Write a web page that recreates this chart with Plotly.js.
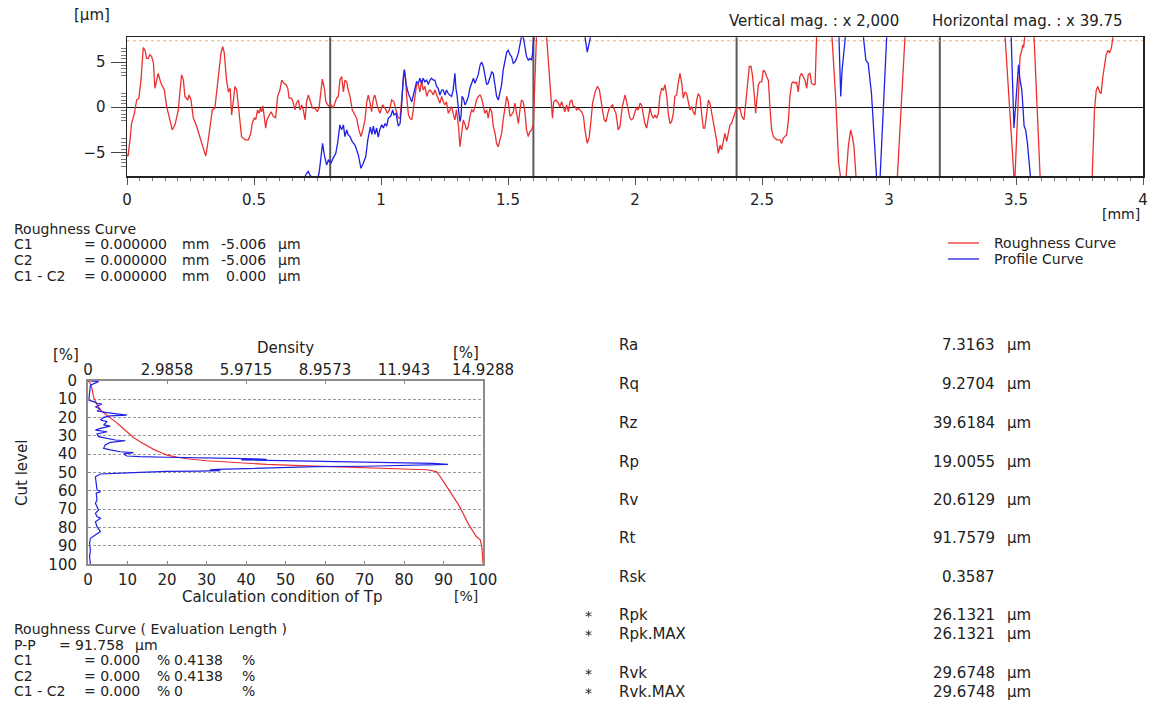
<!DOCTYPE html>
<html>
<head>
<meta charset="utf-8">
<script src="https://cdn.plot.ly/plotly-3.0.1.min.js"></script>
<style>
  html, body { margin: 0; padding: 0; background: #fff; }
  #chart { width: 1152px; height: 706px; }
</style>
</head>
<body>
<div id="chart"></div>
<script>
// ---------- Roughness / profile trace (x in mm, height in µm) ----------
const roughX = [0,0.004,0.012,0.018,0.029,0.038,0.047,0.055,0.064,0.071,0.077,0.084,0.09,0.097,0.104,0.11,0.117,0.123,0.13,0.136,0.147,0.156,0.169,0.178,0.189,0.202,0.209,0.215,0.222,0.228,0.239,0.244,0.252,0.261,0.274,0.287,0.3,0.31,0.318,0.327,0.336,0.346,0.353,0.36,0.37,0.377,0.383,0.392,0.399,0.406,0.412,0.419,0.425,0.432,0.438,0.445,0.451,0.465,0.478,0.487,0.493,0.501,0.507,0.514,0.52,0.525,0.53,0.535,0.541,0.546,0.551,0.559,0.567,0.576,0.585,0.593,0.602,0.609,0.618,0.626,0.633,0.638,0.648,0.655,0.661,0.667,0.675,0.681,0.688,0.694,0.701,0.707,0.714,0.72,0.73,0.74,0.749,0.756,0.762,0.769,0.777,0.783,0.793,0.803,0.812,0.819,0.825,0.832,0.838,0.845,0.852,0.858,0.865,0.871,0.878,0.887,0.895,0.904,0.913,0.921,0.93,0.937,0.944,0.95,0.957,0.963,0.97,0.976,0.986,0.996,1.006,1.016,1.025,1.033,1.042,1.051,1.059,1.068,1.075,1.081,1.088,1.092,1.097,1.101,1.108,1.114,1.121,1.127,1.134,1.14,1.147,1.153,1.16,1.166,1.173,1.18,1.186,1.193,1.199,1.206,1.212,1.219,1.225,1.232,1.239,1.245,1.252,1.258,1.265,1.271,1.278,1.284,1.291,1.297,1.305,1.311,1.318,1.324,1.331,1.337,1.344,1.35,1.357,1.364,1.37,1.376,1.383,1.39,1.396,1.403,1.409,1.416,1.422,1.429,1.436,1.442,1.449,1.455,1.462,1.468,1.475,1.481,1.488,1.495,1.501,1.508,1.514,1.521,1.527,1.534,1.541,1.547,1.553,1.56,1.567,1.573,1.58,1.586,1.593,1.6,1.606,1.612,1.625,1.64,1.652,1.665,1.671,1.675,1.68,1.689,1.698,1.705,1.711,1.718,1.724,1.731,1.738,1.744,1.751,1.757,1.764,1.77,1.777,1.783,1.79,1.797,1.803,1.812,1.82,1.827,1.833,1.843,1.852,1.86,1.866,1.873,1.879,1.886,1.893,1.899,1.906,1.912,1.919,1.925,1.934,1.941,1.95,1.961,1.967,1.974,1.98,1.987,1.993,2.0,2.006,2.013,2.02,2.026,2.033,2.039,2.046,2.052,2.059,2.066,2.072,2.079,2.085,2.092,2.098,2.105,2.112,2.118,2.125,2.131,2.138,2.144,2.151,2.157,2.164,2.17,2.177,2.184,2.19,2.197,2.203,2.21,2.216,2.223,2.229,2.236,2.243,2.249,2.256,2.262,2.269,2.275,2.282,2.289,2.295,2.302,2.308,2.315,2.321,2.328,2.335,2.341,2.348,2.354,2.361,2.367,2.374,2.38,2.387,2.394,2.4,2.407,2.413,2.42,2.429,2.436,2.444,2.45,2.457,2.463,2.47,2.475,2.479,2.486,2.492,2.499,2.505,2.512,2.518,2.525,2.532,2.538,2.545,2.551,2.558,2.564,2.571,2.577,2.584,2.59,2.597,2.604,2.61,2.617,2.623,2.63,2.636,2.643,2.649,2.656,2.662,2.669,2.676,2.682,2.689,2.695,2.702,2.709,2.715,2.73,2.76,2.775,2.789,2.802,2.808,2.82,2.831,2.84,2.849,2.856,2.862,2.87,2.9,3.0,3.033,3.063,3.1,3.42,3.457,3.492,3.494,3.496,3.51,3.516,3.523,3.527,3.53,3.534,3.55,3.571,3.595,3.64,3.76,3.8,3.809,3.816,3.822,3.829,3.835,3.842,3.849,3.855,3.862,3.868,3.875,3.882,3.93,4.0];
const roughY = [-5.3,-5.4,-3.6,-1.8,-0.7,0.8,1.0,3.0,6.6,6.3,5.4,5.4,5.8,5.6,4.9,2.1,3.0,3.75,3.0,2.5,1.9,0.07,-1.4,-2.5,-1.95,-0.3,1.9,3.6,3.0,1.2,0.8,1.35,0.8,-1.2,-2.1,-3.25,-4.5,-5.4,-4.0,-2.1,-0.3,-0.1,1.7,3.0,6.0,6.7,6.0,3.0,1.7,2.1,-0.85,0.8,2.3,1.9,0.07,-2.1,-3.25,-3.6,-3.6,-2.9,-1.8,-1.2,-1.35,-0.3,-0.67,-0.1,-0.5,0.15,-1.0,-2.3,-1.4,-1.0,-0.5,-1.0,-1.2,1.2,1.9,3.0,2.65,2.5,2.1,1.0,1.0,0.45,-0.3,0.45,0.8,-0.3,0.25,-0.3,-1.4,0.6,1.35,0.8,-0.1,-0.1,-0.5,-0.1,1.2,3.1,2.1,0.6,0.15,0.25,-0.1,0.45,1.0,1.2,3.0,3.4,1.7,3.0,2.8,1.9,1.2,-0.3,-0.67,-1.2,-2.5,-3.25,-2.3,-1.4,0.6,1.35,0.45,-0.5,1.0,1.35,0.07,-0.67,0.25,-0.1,-0.67,-0.3,0.8,0.6,-0.3,-1.2,-1.2,1.2,3.0,4.2,3.2,1.2,-0.85,-1.2,-1.4,-0.3,1.2,2.5,2.5,1.7,3.0,1.9,2.3,1.2,1.7,1.9,1.7,1.35,1.9,1.35,0.8,0.45,1.2,0.6,0.25,0.6,-0.67,-0.3,0.07,-0.67,-1.4,-0.3,-2.1,-4.35,-2.5,-1.4,-1.95,-2.5,-2.1,-1.0,-0.3,-0.5,0.07,0.8,1.2,1.35,1.0,0.25,-0.67,-0.3,-1.2,-0.1,-0.5,-2.1,-2.9,-4.0,-4.35,-3.6,-2.9,-1.4,0.07,1.2,0.6,-1.0,-0.85,-0.5,0.45,-0.67,-1.8,-0.3,0.8,0.6,-0.67,-2.5,-3.25,-2.7,-2.5,-1.8,3.75,7.8,14,12,7.8,2.5,0.07,-1.2,0.6,0.8,0.45,0.07,0.6,0.07,-0.5,0.25,-0.5,0.6,0.8,0.07,0.07,-0.3,-0.1,-0.3,-0.5,-1.0,-2.5,-4.0,-3.25,-1.4,0.45,1.7,2.3,1.9,0.6,-0.5,-1.4,-1.6,-0.67,-0.1,0.07,0.25,-0.3,-0.67,-2.5,-2.1,0.07,1.35,0.6,-0.3,-1.2,-1.4,-1.2,-0.5,-0.1,-0.3,0.45,0.25,-0.67,-1.8,-2.3,-1.2,-0.1,-0.85,-1.2,-0.85,-1.2,-0.67,1.2,2.1,1.9,2.5,1.2,-0.67,-1.8,-1.6,-0.67,1.2,1.35,2.65,3.75,2.65,1.0,1.7,1.5,0.6,-0.3,0.07,-0.5,-0.85,0.8,1.5,1.2,-0.67,-2.3,-2.3,-0.67,0.8,0.45,-0.67,-1.8,-2.5,-3.6,-5.1,-4.2,-4.7,-3.6,-2.9,-3.8,-2.9,-1.95,-1.8,-1.2,-0.5,-0.1,-0.1,-0.1,-1.0,-1.4,0.45,3.0,4.5,4.5,3.4,1.2,-0.67,0.6,2.5,2.8,2.8,4.1,3.9,3.4,3.0,-0.3,-2.5,-3.25,-3.4,-3.6,-3.6,-3.6,-4.0,-3.4,-3.25,-3.05,-1.4,1.2,2.65,2.8,2.65,2.8,1.7,3.4,3.75,3.4,3.0,2.1,3.6,3.75,2.65,2.5,2.5,7.8,15,15,7.8,1.5,-6.2,-7.7,-10,-7.7,-4.3,-2.5,-3.3,-4.35,-7.7,-20,-20,-7.7,7.8,19,19,7.8,-7.7,-9,-7.7,3.0,5.6,6.3,6.9,6.6,7.8,12,7.8,-7.7,-20,-20,-7.7,-0.3,1.9,2.3,1.7,1.5,3.4,4.85,5.8,6.3,6.0,6.5,7.8,16,19];

const profX = [0,0.69,0.701,0.707,0.714,0.72,0.727,0.74,0.75,0.756,0.764,0.77,0.777,0.786,0.793,0.803,0.812,0.822,0.829,0.838,0.845,0.852,0.858,0.865,0.871,0.878,0.887,0.898,0.911,0.921,0.93,0.94,0.948,0.958,0.964,0.97,0.976,0.983,0.989,0.996,1.003,1.009,1.016,1.022,1.029,1.038,1.046,1.051,1.059,1.068,1.075,1.081,1.088,1.092,1.099,1.108,1.121,1.127,1.134,1.14,1.147,1.153,1.16,1.166,1.173,1.18,1.186,1.193,1.199,1.206,1.212,1.219,1.225,1.232,1.239,1.245,1.252,1.258,1.265,1.271,1.278,1.284,1.291,1.295,1.3,1.305,1.311,1.315,1.319,1.324,1.331,1.337,1.344,1.35,1.357,1.364,1.37,1.376,1.383,1.39,1.396,1.403,1.409,1.416,1.422,1.429,1.436,1.442,1.449,1.455,1.462,1.468,1.475,1.481,1.488,1.495,1.501,1.508,1.514,1.521,1.527,1.534,1.541,1.547,1.553,1.56,1.567,1.573,1.58,1.586,1.593,1.597,1.602,1.61,1.79,1.803,1.812,1.82,1.825,1.84,1.925,1.934,1.942,2.0,2.79,2.803,2.81,2.815,2.827,2.85,2.89,2.899,2.909,2.918,2.931,2.942,2.951,2.958,2.965,2.991,3.05,3.45,3.481,3.492,3.51,3.516,3.523,3.532,3.538,3.545,3.552,3.557,3.6,4.0];
const profY = [-30,-9,-7.66,-7.3,-7.1,-7.5,-7.7,-8.2,-7.9,-7.3,-5.45,-4.0,-5.3,-6.4,-5.8,-6.2,-5.6,-5.1,-4.0,-1.95,-2.5,-1.95,-3.25,-2.5,-3.05,-3.25,-3.8,-4.2,-5.3,-6.75,-6.2,-5.45,-3.6,-2.2,-3.0,-2.1,-3.0,-2.3,-3.3,-2.4,-1.95,-2.3,-1.8,-2.1,-1.2,-1.0,-0.3,-0.85,-0.67,-2.1,-1.8,0.07,3.4,4.1,2.5,1.5,0.6,1.2,2.1,2.8,2.65,3.2,2.65,3.2,2.8,3.0,2.5,3.0,3.2,3.0,3.0,2.3,2.1,1.35,1.9,1.9,1.35,1.9,1.5,1.35,1.2,1.9,3.75,2.1,1.2,-0.3,-1.6,-1.0,1.2,1.0,0.25,0.6,1.2,2.1,2.8,3.2,2.65,3.0,3.6,4.65,5.0,4.5,3.4,2.5,2.65,3.4,3.9,3.75,2.5,1.2,0.8,1.5,2.5,4.1,5.2,6.1,6.3,5.8,5.6,4.85,5.0,5.4,6.0,7.1,7.8,7.8,6.3,5.6,5.2,5.4,5.2,6.0,7.8,14,14,7.8,6.1,7.1,7.8,12,9,7.75,9,14,14,7.8,1.2,4,7.8,14,12,7.8,5.2,4.85,1.55,-3.6,-7.7,-9,-7.7,7.8,20,20,7.8,-2.3,4.7,3.0,1.9,-2.1,-2.5,-4.0,-6.2,-7.7,-15,-15];

const xMajor = [0, 0.5, 1, 1.5, 2, 2.5, 3, 3.5, 4];
const yMajor = [-5, 0, 5];
const sectionEdges = [0.8, 1.6, 2.4, 3.2];
const evalLimit = 7.35;

// ---------- Bearing ratio (Tp) and height density ----------
const tpRatio = [0,0.6,1.0,1.4,1.9,2.3,3.1,4.4,5.6,6.9,8.2,9.9,11.5,13.2,14.9,16.6,18.3,20,22.5,25,30.1,36.8,45.2,53.7,62.1,70.5,78.9,85.7,88.2,88.9,90.3,92,94.1,96.2,98.3,99.3,99.7,100];
const tpCut   = [0,1.5,4.2,8.7,11.4,13.2,16,18.1,20,22.3,24.7,27.8,30.9,33.2,35.4,37.4,39,40.5,41.6,42.5,43.6,44.6,45.6,46.3,46.8,47.4,47.9,48.5,49.5,51.4,55.9,61.3,68.6,77.7,84.9,86.7,90.4,99.5];

const densVal = [0,0.4,0.09,0.06,0.03,0.21,0.34,0.53,0.28,0.47,0.34,0.72,1.16,1.47,0.84,0.59,0.47,0.72,0.59,0.84,0.47,0.28,0.72,0.34,0.4,0.72,1.03,1.41,0.84,0.65,0.59,0.84,1.22,1.72,1.35,1.47,1.97,2.98,4.49,5.5,6.25,6.75,5.8,6.6,8.01,9.9,11.78,13.04,13.61,12.4,10.5,8.64,7.39,6.75,5.5,4.87,4.61,5.0,4.2,2.98,1.72,0.47,0.28,0.31,0.34,0.47,0.31,0.34,0.28,0.4,0.28,0.34,0.47,0.28,0.34,0.47,0.28,0.09,0.06,0.09,0.06,0.09];
const densCut = [0,0.5,2.4,6.9,10.5,11.4,12.3,12.7,14.2,15.6,16.5,17.4,18.1,18.7,19.2,20,21.4,22.3,24.1,24.7,26,26.9,27.8,29,30.5,31.4,32.3,32.7,33.6,35,36.8,37.7,38.7,39.2,39.9,41,41.4,41.7,41.9,42.3,42.6,42.8,43.1,43.3,43.6,44.1,44.6,45,45.6,46.1,46.6,46.8,47.2,47.5,47.9,48.3,48.6,49,49.2,49.4,50.1,50.8,52.3,55.9,59.5,60.4,61.3,65,66.8,70.4,72.2,74,75,76.8,79.5,82.2,84,85.8,88.6,92.2,95.8,100];

const densTicks = [0, 2.9858, 5.9715, 8.9573, 11.943, 14.9288];
const densTickText = ['0', '2.9858', '5.9715', '8.9573', '11.943', '14.9288'];

// ---------- Parameter table ----------
const paramNames  = ['Ra', 'Rq', 'Rz', 'Rp', 'Rv', 'Rt', 'Rsk', 'Rpk', 'Rpk.MAX', 'Rvk', 'Rvk.MAX'];
const paramValues = [7.3163, 9.2704, 39.6184, 19.0055, 20.6129, 91.7579, 0.3587, 26.1321, 26.1321, 29.6748, 29.6748];
const paramUnits  = ['µm', 'µm', 'µm', 'µm', 'µm', 'µm', '', 'µm', 'µm', 'µm', 'µm'];
const paramMarks  = ['', '', '', '', '', '', '', '*', '*', '*', '*'];
const paramRowsY  = [345, 384, 423, 462, 500, 538, 577, 615, 634, 673, 692];

// Cursor readouts
const cursorLabels = ['C1', 'C2', 'C1 - C2'];
const cursorPos    = ['= 0.000000', '= 0.000000', '= 0.000000'];
const cursorHeight = ['-5.006', '-5.006', '0.000'];
const tpLabels     = ['C1', 'C2', 'C1 - C2'];
const tpLevel      = ['= 0.000', '= 0.000', '= 0.000'];
const tpRatioRead  = ['0.4138', '0.4138', '0'];

// Legend entries for the profile plot
const legendNames = ['Roughness Curve', 'Profile Curve'];

// ---------- Drawing ----------
const FONT = 'DejaVu Sans, Liberation Sans, sans-serif';
const TXT = '#222';
const W = 1152, H = 706;
const fx = p => p / W;
const fy = p => 1 - p / H;
const RED = 'rgb(236,48,48)';
const BLUE = 'rgb(32,32,228)';
const FS = 15;   // general labels
const FD = 14;   // tightly stacked readout rows

const annotations = [];
function txt(x, y, text, opt = {}) {
  annotations.push(Object.assign({
    xref: 'paper', yref: 'paper', x: fx(x), y: fy(y), text: text,
    showarrow: false, xanchor: 'left', yanchor: 'middle',
    font: { family: FONT, size: opt.size || FS, color: TXT }
  }, opt.extra || {}));
}

// header
txt(72, 15, '[µm]');
txt(727, 21, 'Vertical mag. : x 2,000');
txt(930, 21, 'Horizontal mag. : x 39.75');
txt(1100, 214, '[mm]', { size: 14 });

// cursor block
const curRows = [244.5, 260, 275.5];
txt(12, 229, 'Roughness Curve', { size: FD });
cursorLabels.forEach((s, i) => {
  txt(12, curRows[i], s, { size: FD });
  txt(82, curRows[i], cursorPos[i], { size: FD });
  txt(180, curRows[i], 'mm', { size: FD });
  txt(268, curRows[i], cursorHeight[i], { size: FD, extra: { xanchor: 'right' } });
  txt(276, curRows[i], 'µm', { size: FD });
});

// Tp readout block
const tpRows = [660, 675.5, 691];
txt(12, 629, 'Roughness Curve ( Evaluation Length )', { size: FD });
txt(12, 644.5, 'P-P', { size: FD });
txt(57, 644.5, '=', { size: FD });
txt(73, 644.5, '91.758', { size: FD });
txt(133, 644.5, 'µm', { size: FD });
tpLabels.forEach((s, i) => {
  txt(12, tpRows[i], s, { size: FD });
  txt(82, tpRows[i], tpLevel[i], { size: FD });
  txt(155, tpRows[i], '%', { size: FD });
  txt(172, tpRows[i], tpRatioRead[i], { size: FD });
  txt(240, tpRows[i], '%', { size: FD });
});

// parameter table
paramNames.forEach((s, i) => {
  const y = paramRowsY[i];
  if (paramMarks[i]) txt(583, y + 1, paramMarks[i], { size: FD });
  txt(617, y, s);
  txt(997, y, paramValues[i].toFixed(4), { extra: { xanchor: 'right' } });
  if (paramUnits[i]) txt(1005, y, paramUnits[i]);
});

// lower chart labels
txt(285, 348, 'Density', { extra: { xanchor: 'center' } });
txt(66, 355, '[%]', { extra: { xanchor: 'center' } });
txt(466, 353, '[%]', { extra: { xanchor: 'center' } });
txt(466, 596, '[%]', { size: 14, extra: { xanchor: 'center' } });
txt(282, 597, 'Calculation condition of Tp', { extra: { xanchor: 'center' } });
txt(22, 473, 'Cut level', { extra: { xanchor: 'center', textangle: -90 } });

// y minor ticks clustered around each labelled height
const yMinor = [];
yMajor.forEach(v => { for (let k = 1; k <= 4; k++) { yMinor.push(v + 0.38 * k, v - 0.38 * k); } });

const shapes = sectionEdges.map(x => ({
  type: 'line', xref: 'x', yref: 'y domain', x0: x, x1: x, y0: 0, y1: 1,
  line: { color: '#5a5a5a', width: 2 }, layer: 'below'
}));
shapes.push({
  type: 'line', xref: 'x domain', yref: 'y', x0: 0, x1: 1, y0: evalLimit, y1: evalLimit,
  line: { color: '#f2b27a', width: 1, dash: 'dot' }, layer: 'below'
});

// legend keys
[RED, BLUE].forEach((c, i) => {
  const y = 243 + i * 16;
  shapes.push({ type: 'line', xref: 'paper', yref: 'paper',
    x0: fx(948), x1: fx(979), y0: fy(y), y1: fy(y), line: { color: c, width: 1.3 } });
  txt(992, y, legendNames[i], { size: FD });
});

const tickFont = { family: FONT, size: 15, color: TXT };

const traces = [
  { x: roughX, y: roughY, xaxis: 'x', yaxis: 'y', type: 'scatter', mode: 'lines',
    name: legendNames[0], line: { color: RED, width: 1.3 } },
  { x: profX, y: profY, xaxis: 'x', yaxis: 'y', type: 'scatter', mode: 'lines',
    name: legendNames[1], line: { color: BLUE, width: 1.3 } },
  { x: densVal, y: densCut, xaxis: 'x3', yaxis: 'y2', type: 'scatter', mode: 'lines',
    line: { color: BLUE, width: 1.2 } },
  { x: tpRatio, y: tpCut, xaxis: 'x2', yaxis: 'y2', type: 'scatter', mode: 'lines',
    line: { color: RED, width: 1.2 } }
];

const layout = {
  width: W, height: H,
  margin: { l: 0, r: 0, t: 0, b: 0 },
  paper_bgcolor: '#fff', plot_bgcolor: '#fff',
  font: { family: FONT, color: TXT },
  showlegend: false,
  xaxis: {
    domain: [fx(127), fx(1143)], range: [0, 4], anchor: 'y',
    tickmode: 'array', tickvals: xMajor, ticks: 'outside', ticklen: 7, tickcolor: '#555',
    minor: { dtick: 0.05, ticks: 'outside', ticklen: 3, tickcolor: '#777' },
    showline: true, linecolor: '#222', linewidth: 1.5, mirror: true,
    showgrid: false, zeroline: false, tickfont: tickFont, ticklabelstandoff: 2
  },
  yaxis: {
    domain: [fy(176), fy(37.3)], range: [-7.6, 7.73], anchor: 'x',
    tickmode: 'array', tickvals: yMajor, ticks: 'outside', ticklen: 15, tickcolor: '#444',
    minor: { tickmode: 'array', tickvals: yMinor, ticks: 'outside', ticklen: 5, tickcolor: '#777' },
    showline: true, linecolor: '#222', linewidth: 1.5, mirror: true,
    showgrid: false, zeroline: true, zerolinecolor: '#111', zerolinewidth: 1,
    tickfont: tickFont, ticklabelstandoff: 2
  },
  xaxis2: {
    domain: [fx(88), fx(483)], range: [0, 100], anchor: 'y2',
    dtick: 10, ticks: 'inside', ticklen: 3, tickcolor: '#888',
    showline: true, linecolor: '#8c8c8c', linewidth: 2, mirror: true,
    showgrid: false, zeroline: false, tickfont: tickFont, ticklabelstandoff: 1
  },
  xaxis3: {
    overlaying: 'x2', side: 'top', anchor: 'y2', range: [0, 14.9288],
    tickmode: 'array', tickvals: densTicks, ticktext: densTickText,
    ticks: 'inside', ticklen: 3, tickcolor: '#888',
    showgrid: false, zeroline: false, showline: false, tickfont: tickFont, ticklabelstandoff: 2
  },
  yaxis2: {
    domain: [fy(564.3), fy(380.7)], range: [100, 0], anchor: 'x2',
    dtick: 10, ticks: 'inside', ticklen: 3, tickcolor: '#888',
    showline: true, linecolor: '#8c8c8c', linewidth: 2, mirror: true,
    showgrid: true, gridcolor: '#9a9a9a', gridwidth: 1, griddash: '3px,2px',
    zeroline: false, tickfont: tickFont, ticklabelstandoff: 6
  },
  shapes: shapes,
  annotations: annotations
};

Plotly.newPlot('chart', traces, layout, { staticPlot: true, displayModeBar: false });
</script>
</body>
</html>
